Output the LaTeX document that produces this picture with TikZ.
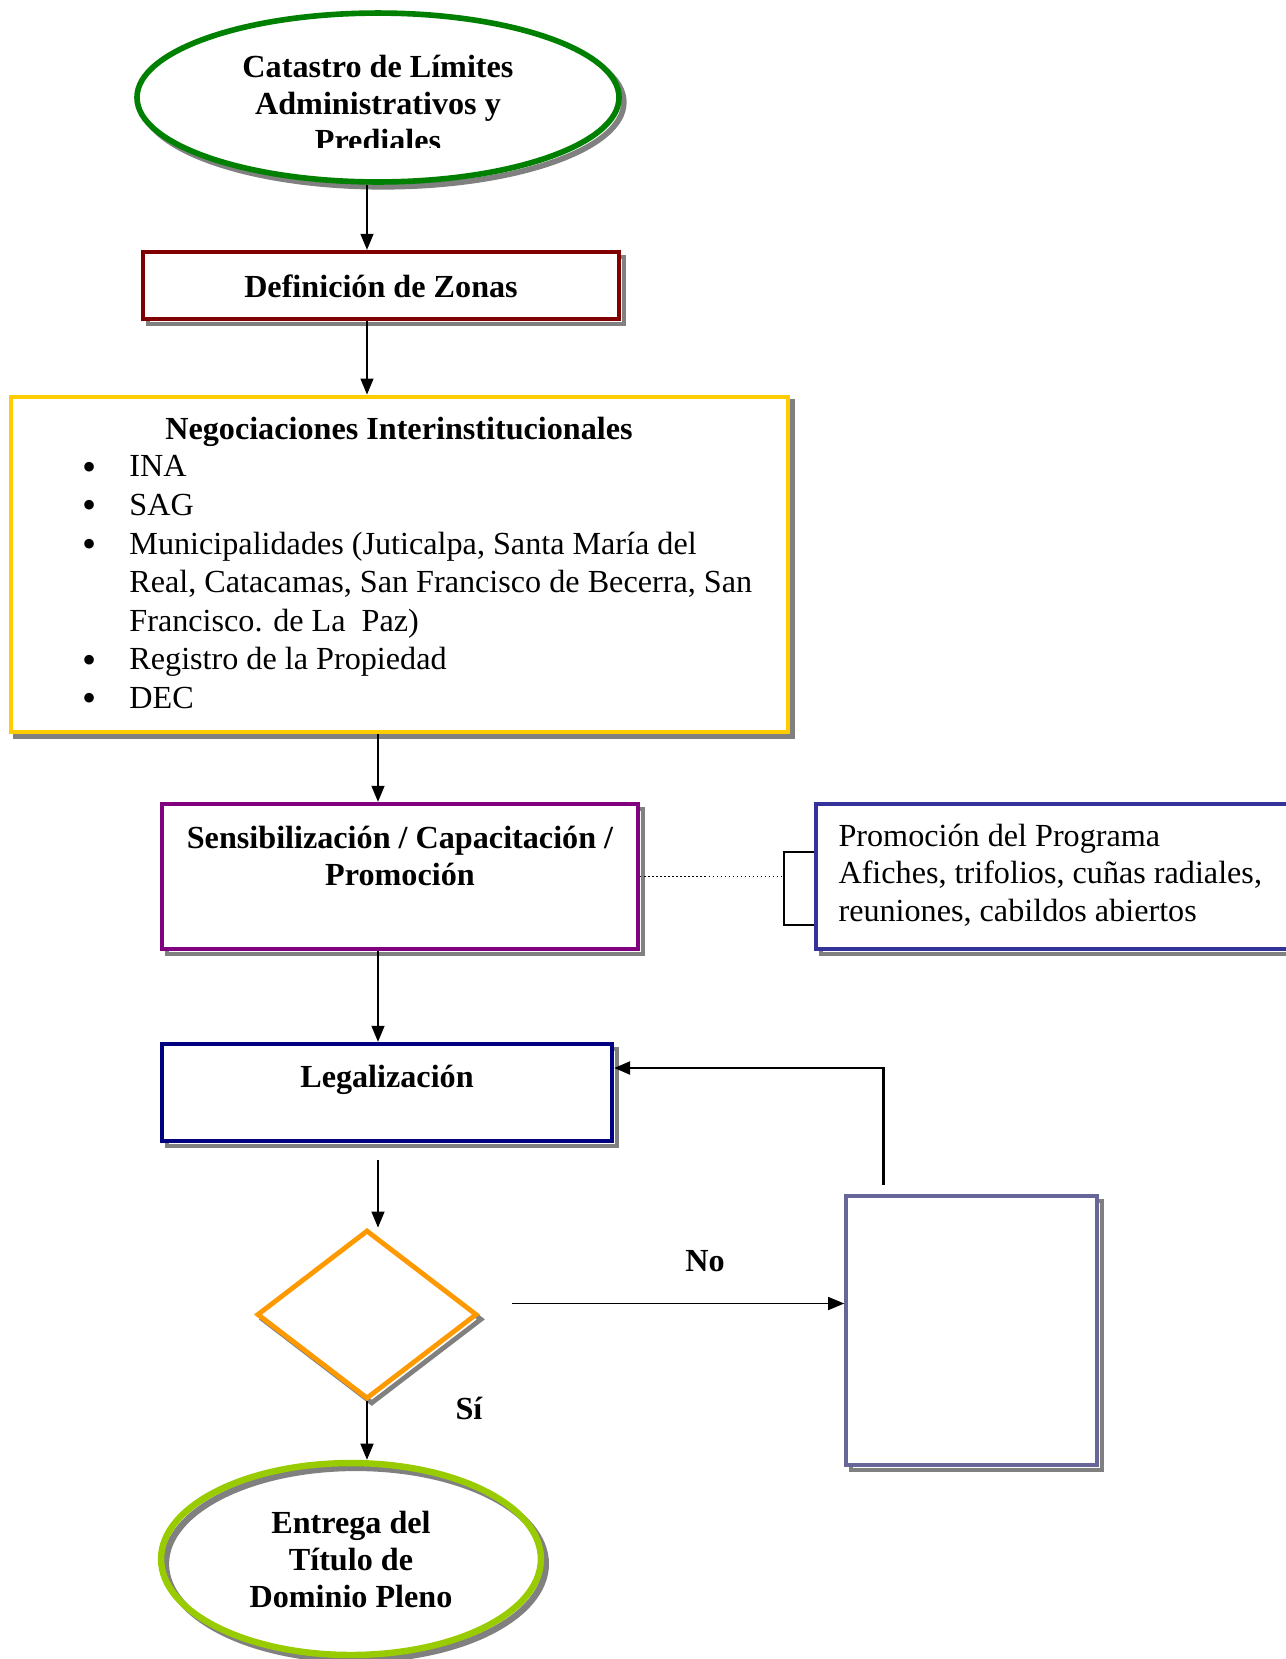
\documentclass[tikz,border=0pt]{standalone}
\usepackage{fontspec}
\setmainfont{Liberation Serif}
\usepackage{tikz}
\usetikzlibrary{calc, arrows.meta, fit, shapes.geometric, shadows}

\definecolor{verde}{HTML}{008000}
\definecolor{vino}{HTML}{800000}
\definecolor{amarillo}{HTML}{FFCC00}
\definecolor{morado}{HTML}{800080}
\definecolor{marino}{HTML}{000080}
\definecolor{azul}{HTML}{333399}
\definecolor{lila}{HTML}{666699}
\definecolor{naranja}{HTML}{FF9900}
\definecolor{lima}{HTML}{99CC00}
\definecolor{sombra}{HTML}{808080}

\newcommand{\vinieta}{\smash{\raisebox{-1.2pt}{\fontsize{15}{14.4}\selectfont\textbullet}}}

\begin{document}
\begin{tikzpicture}[x=0.373pt, y=-0.373pt,
    sombreado/.style={general shadow={shadow xshift=1.8pt, shadow yshift=-1.8pt, draw=sombra, line width=#1}},
    caja/.style={draw=#1, fill=white, line width=1.6pt, inner sep=0pt, sombreado=1.6pt},
    flecha/.style={-{Triangle[length=6pt, width=4.8pt]}, line width=0.7pt},
    titulo/.style={font=\bfseries\fontsize{12}{13.8}\selectfont, align=center, inner sep=0pt},
    texto/.style={font=\fontsize{12}{14}\selectfont, align=left, inner sep=0pt}]

	\useasboundingbox (0,0) rectangle (1285,1659);

	\coordinate (ejeA) at (367,0);
	\coordinate (ejeB) at (378,0);

	\node[ellipse, draw=verde, fill=white, line width=2.1pt, sombreado=2.1pt, minimum width=179.8pt, minimum height=63pt, inner sep=0pt] (catastro) at (378,97.5) {};
	\begin{scope}
		\clip (130,0) rectangle (630,147);
		\node[titulo] (catastrotxt) at (378,103) {Catastro de Límites\\Administrativos y\\Prediales};
	\end{scope}

	\node[caja=vino, fit={(143,252) (619,319)}] (zonas) {};
	\node[titulo] (zonastxt) at (381,286) {Definición de Zonas};

	\node[caja=amarillo, line width=1.8pt, sombreado=1.8pt, fit={(11,397) (788,732)}] (negociaciones) {};
	\node[titulo] (negtit) at (399,432) {Negociaciones Interinstitucionales};
	\node[anchor=west, inner sep=0pt, font=\fontsize{12}{14.4}\selectfont] (lista) at (82,585) {%
		\begin{tabular}{@{}p{17.5pt}@{}l@{}}
		\vinieta & INA\\
		\vinieta & SAG\\
		\vinieta & Municipalidades (Juticalpa, Santa María del\\
		 & Real, Catacamas, San Francisco de Becerra, San\\
		 & Francisco. de La\ \ Paz)\\
		\vinieta & Registro de la Propiedad\\
		\vinieta & DEC
		\end{tabular}};

	\node[caja=morado, fit={(162,804) (638,949)}] (sensi) {};
	\node[titulo] (sensitxt) at (400,856) {Sensibilización / Capacitación /\\Promoción};

	\node[caja=azul, line width=1.3pt, sombreado=1.3pt, fit={(816,804) (1310,949)}] (promo) {};
	\node[texto, anchor=west] (promotxt) at (838,875) {Promoción del Programa\\Afiches, trifolios, cuñas radiales,\\reuniones, cabildos abiertos};

	\node[caja=marino, fit={(162,1044) (612,1141)}] (legal) {};
	\node[titulo] (legaltxt) at (387,1080) {Legalización};

	\node[diamond, draw=naranja, fill=white, line width=1.8pt, sombreado=1.8pt, minimum width=82.1pt, minimum height=63pt, inner sep=0pt] (decision) at (367,1314.5) {};

	\node[caja=lila, line width=1.3pt, sombreado=1.3pt, fit={(846,1196) (1097,1465)}] (revision) {};

	\node[ellipse, draw=lima, line width=2.4pt, sombreado=2.4pt, minimum width=141.7pt, minimum height=71.6pt, titulo] (entrega) at (351,1559) {Entrega del\\Título de\\Dominio Pleno};

	\node[titulo] (no) at (705,1261) {No};
	\node[titulo] (si) at (469,1408) {Sí};

	\coordinate (salida) at ($(decision.east)+(33,-11)$);
	\coordinate (retorno) at ($(revision.north west)+(39,-9)$);
	\coordinate (corchete) at ($(promo.west)+(-30,0)$);

	\draw[flecha] (catastro.south -| ejeA) -- (zonas.north -| ejeA);
	\draw[flecha] (zonas.south -| ejeA) -- (negociaciones.north -| ejeA);
	\draw[flecha] (negociaciones.south -| ejeB) -- (sensi.north -| ejeB);
	\draw[flecha] (sensi.south -| ejeB) -- (legal.north -| ejeB);
	\draw[flecha] ($(legal.south -| ejeB)+(0,17)$) -- (decision.north -| ejeB);
	\draw[flecha] (decision.south) -- (entrega.north -| ejeA);
	\draw[flecha] (salida) -- (salida -| revision.west);
	\draw[flecha, line width=1.1pt] (retorno) |- ($(legal.east)+(0,-24.5)$);

	\draw[densely dotted, line width=0.5pt] (sensi.east) -- (corchete);
	\draw[line width=0.7pt] ($(promo.west)+(0,-24.5)$) -| ($(corchete)+(0,48.5)$) -- ($(promo.west)+(0,48.5)$);
\end{tikzpicture}
\end{document}
